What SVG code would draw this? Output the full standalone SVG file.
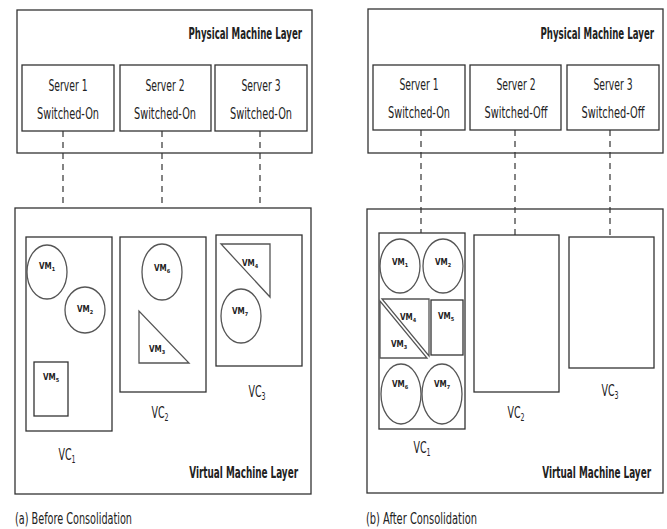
<svg xmlns="http://www.w3.org/2000/svg" width="667" height="529" viewBox="0 0 667 529">
  <style>
    .box { fill: #fff; stroke: #333; stroke-width: 1.3; }
    .vm { fill: #fff; stroke: #555; stroke-width: 1.3; }
    .dash { stroke: #333; stroke-width: 1.2; stroke-dasharray: 6 5; fill: none; }
    text { font-family: "Liberation Sans Narrow", "DejaVu Sans Condensed", "Liberation Sans", sans-serif; fill: #222; }
    .srv { font-size: 15px; text-anchor: middle; }
    .layer { font-size: 16px; font-weight: bold; text-anchor: end; }
    .cap { font-size: 16px; }
    .vc { font-size: 15px; text-anchor: middle; }
    .vml { font-size: 8px; font-weight: bold; text-anchor: middle; }
    .sub { font-size: 5.5px; }
    .vcsub { font-size: 10px; }
  </style>

  <rect width="667" height="529" fill="#fff"/>

  <!-- (a) before consolidation -->
  <g id="a-physical-layer">
    <rect class="box" x="17" y="10" width="295" height="143"/>
    <text class="layer" transform="translate(302 39) scale(0.6 1)">Physical Machine Layer</text>
  </g>
  <g id="a-server1">
    <rect class="box" x="22" y="65" width="92" height="66"/>
    <text class="srv" x="68" y="91" textLength="39" lengthAdjust="spacingAndGlyphs">Server 1</text>
    <text class="srv" x="68" y="119" textLength="62" lengthAdjust="spacingAndGlyphs">Switched-On</text>
  </g>
  <g id="a-server2">
    <rect class="box" x="120" y="65" width="91" height="66"/>
    <text class="srv" x="165" y="91" textLength="39" lengthAdjust="spacingAndGlyphs">Server 2</text>
    <text class="srv" x="165" y="119" textLength="62" lengthAdjust="spacingAndGlyphs">Switched-On</text>
  </g>
  <g id="a-server3">
    <rect class="box" x="215" y="65" width="92" height="66"/>
    <text class="srv" x="261" y="91" textLength="39" lengthAdjust="spacingAndGlyphs">Server 3</text>
    <text class="srv" x="261" y="119" textLength="62" lengthAdjust="spacingAndGlyphs">Switched-On</text>
  </g>

  <g id="a-virtual-layer">
    <rect class="box" x="15" y="208" width="296" height="286"/>
    <text class="layer" transform="translate(298 478) scale(0.615 1)">Virtual Machine Layer</text>
  </g>

  <g id="a-vc1">
    <rect class="box" x="26" y="237" width="86" height="194"/>
    <ellipse class="vm" cx="47" cy="272" rx="20" ry="27"/>
    <text class="vml" x="47" y="269">VM<tspan class="sub" dy="2">1</tspan></text>
    <ellipse class="vm" cx="85" cy="310" rx="20" ry="23"/>
    <text class="vml" x="85" y="312">VM<tspan class="sub" dy="2">2</tspan></text>
    <rect class="box" x="34" y="362" width="34" height="54"/>
    <text class="vml" x="51" y="380">VM<tspan class="sub" dy="2">5</tspan></text>
    <text class="vc" transform="translate(67 460) scale(0.7 1)">VC<tspan class="vcsub" dy="3">1</tspan></text>
  </g>
  <g id="a-vc2">
    <rect class="box" x="120" y="237" width="86" height="155"/>
    <ellipse class="vm" cx="162" cy="272" rx="20" ry="28"/>
    <text class="vml" x="162" y="271">VM<tspan class="sub" dy="2">6</tspan></text>
    <polygon class="vm" points="139,311 139,363 189,363"/>
    <text class="vml" x="157" y="352">VM<tspan class="sub" dy="2">3</tspan></text>
    <text class="vc" transform="translate(160 418) scale(0.7 1)">VC<tspan class="vcsub" dy="3">2</tspan></text>
  </g>
  <g id="a-vc3">
    <rect class="box" x="216" y="235" width="86" height="131"/>
    <polygon class="vm" points="221,244 270,244 270,297"/>
    <text class="vml" x="250" y="266">VM<tspan class="sub" dy="2">4</tspan></text>
    <ellipse class="vm" cx="241" cy="316" rx="20" ry="27"/>
    <text class="vml" x="240" y="314">VM<tspan class="sub" dy="2">7</tspan></text>
    <text class="vc" transform="translate(257 397) scale(0.7 1)">VC<tspan class="vcsub" dy="3">3</tspan></text>
  </g>

  <text id="a-caption" class="cap" x="15" y="524" textLength="117" lengthAdjust="spacingAndGlyphs">(a) Before Consolidation</text>

  <!-- (b) after consolidation -->
  <g id="b-physical-layer">
    <rect class="box" x="368" y="9" width="295" height="144"/>
    <text class="layer" transform="translate(654 39) scale(0.6 1)">Physical Machine Layer</text>
  </g>
  <g id="b-server1">
    <rect class="box" x="373" y="65" width="92" height="65"/>
    <text class="srv" x="419" y="90" textLength="39" lengthAdjust="spacingAndGlyphs">Server 1</text>
    <text class="srv" x="419" y="118" textLength="62" lengthAdjust="spacingAndGlyphs">Switched-On</text>
  </g>
  <g id="b-server2">
    <rect class="box" x="470" y="65" width="91" height="65"/>
    <text class="srv" x="516" y="90" textLength="39" lengthAdjust="spacingAndGlyphs">Server 2</text>
    <text class="srv" x="516" y="118" textLength="63" lengthAdjust="spacingAndGlyphs">Switched-Off</text>
  </g>
  <g id="b-server3">
    <rect class="box" x="567" y="65" width="92" height="65"/>
    <text class="srv" x="613" y="90" textLength="39" lengthAdjust="spacingAndGlyphs">Server 3</text>
    <text class="srv" x="613" y="118" textLength="63" lengthAdjust="spacingAndGlyphs">Switched-Off</text>
  </g>

  <g id="b-virtual-layer">
    <rect class="box" x="367" y="209" width="296" height="284"/>
    <text class="layer" transform="translate(651 478) scale(0.615 1)">Virtual Machine Layer</text>
  </g>

  <g id="b-vc1">
    <rect class="box" x="379" y="233" width="86" height="196"/>
    <ellipse class="vm" cx="400" cy="266" rx="20" ry="27"/>
    <text class="vml" x="400" y="265">VM<tspan class="sub" dy="2">1</tspan></text>
    <ellipse class="vm" cx="443" cy="266" rx="20" ry="27"/>
    <text class="vml" x="443" y="265">VM<tspan class="sub" dy="2">2</tspan></text>
    <polygon class="vm" points="382,299 429,299 429,356"/>
    <polygon class="vm" points="380,301 380,358 427,358"/>
    <text class="vml" x="408" y="320">VM<tspan class="sub" dy="2">4</tspan></text>
    <text class="vml" x="399" y="347">VM<tspan class="sub" dy="2">3</tspan></text>
    <rect class="box" x="431" y="300" width="32" height="55"/>
    <text class="vml" x="446" y="319">VM<tspan class="sub" dy="2">5</tspan></text>
    <ellipse class="vm" cx="401" cy="394" rx="20" ry="30"/>
    <text class="vml" x="400" y="387">VM<tspan class="sub" dy="2">6</tspan></text>
    <ellipse class="vm" cx="442" cy="394" rx="20" ry="30"/>
    <text class="vml" x="442" y="387">VM<tspan class="sub" dy="2">7</tspan></text>
    <text class="vc" transform="translate(422 453) scale(0.7 1)">VC<tspan class="vcsub" dy="3">1</tspan></text>
  </g>
  <g id="b-vc2">
    <rect class="box" x="474" y="235" width="85" height="157"/>
    <text class="vc" transform="translate(516 418) scale(0.7 1)">VC<tspan class="vcsub" dy="3">2</tspan></text>
  </g>
  <g id="b-vc3">
    <rect class="box" x="569" y="237" width="85" height="131"/>
    <text class="vc" transform="translate(610 396) scale(0.7 1)">VC<tspan class="vcsub" dy="3">3</tspan></text>
  </g>

  <text id="b-caption" class="cap" x="366" y="524" textLength="111" lengthAdjust="spacingAndGlyphs">(b) After Consolidation</text>

  <!-- server-to-container links -->
  <g id="connectors">
    <line class="dash" x1="63" y1="131" x2="63" y2="208"/>
    <line class="dash" x1="162" y1="131" x2="162" y2="208"/>
    <line class="dash" x1="260" y1="131" x2="260" y2="208"/>
    <line class="dash" x1="421" y1="130" x2="421" y2="233"/>
    <line class="dash" x1="515" y1="130" x2="515" y2="235"/>
    <line class="dash" x1="610" y1="130" x2="610" y2="237"/>
  </g>
</svg>
